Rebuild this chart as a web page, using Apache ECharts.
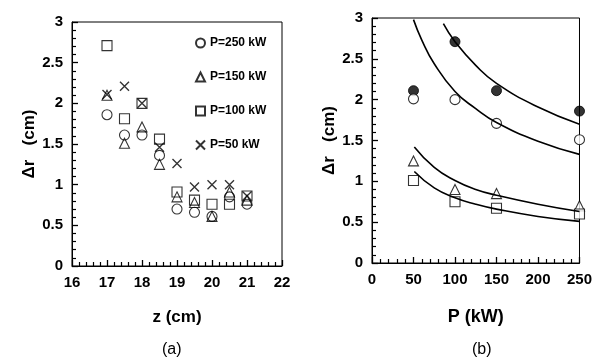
<!DOCTYPE html>
<html><head><meta charset="utf-8">
<script src="https://cdn.jsdelivr.net/npm/echarts@6/dist/echarts.min.js"></script>
<style>html,body{margin:0;padding:0;background:#fff}#c{width:595px;height:364px}</style>
</head><body><div id="c"></div>
<script>
// ---- Panel (a): Δr vs z ----
const zCm = [17, 17.5, 18, 18.5, 19, 19.5, 20, 20.5, 21];
const drP250 = [1.86, 1.61, 1.61, 1.36, 0.70, 0.66, 0.61, 0.85, 0.76];
const drP150 = [2.10, 1.51, 1.71, 1.25, 0.85, 0.78, 0.61, 0.91, 0.81];
const drP100 = [2.71, 1.81, 2.00, 1.56, 0.91, 0.81, 0.76, 0.76, 0.86];
const drP50  = [2.11, 2.21, 2.00, 1.46, 1.26, 0.97, 1.00, 1.00, 0.86];
const legendNames = ['P=250 kW', 'P=150 kW', 'P=100 kW', 'P=50 kW'];
const xTicksA = [16, 17, 18, 19, 20, 21, 22];
const yTicks = [0, 0.5, 1, 1.5, 2, 2.5, 3];

// ---- Panel (b): Δr vs P ----
const pKW = [50, 100, 150, 250];
const bFilled = [2.11, 2.71, 2.11, 1.86];
const bOpen   = [2.01, 2.00, 1.71, 1.51];
const bTri    = [1.25, 0.90, 0.85, 0.70];
const bSq     = [1.01, 0.75, 0.67, 0.60];
// fitted curves
const fit1P = [86, 100, 125, 150, 200, 250];
const fit1V = [2.93, 2.71, 2.42, 2.20, 1.91, 1.70];
const fit2P = [50, 60, 75, 100, 125, 150, 200, 250];
const fit2V = [2.98, 2.73, 2.44, 2.10, 1.89, 1.72, 1.49, 1.33];
const fit3P = [51, 75, 100, 125, 150, 200, 250];
const fit3V = [1.42, 1.17, 1.01, 0.90, 0.83, 0.72, 0.63];
const fit4P = [51, 75, 100, 125, 150, 200, 250];
const fit4V = [1.12, 0.92, 0.80, 0.72, 0.66, 0.57, 0.51];
const xTicksB = [0, 50, 100, 150, 200, 250];

const FONT = '"Liberation Sans", Arial, sans-serif';
const CROSS = 'path://M0,0L10,10M0,10L10,0';
const pair = (xs, ys) => xs.map((x, i) => [x, ys[i]]);

function makeAxis(extra) {
  const ax = {
    type: 'value',
    axisLine: { show: true, lineStyle: { color: '#000', width: 1 } },
    axisTick: { show: true, inside: true, length: 6, lineStyle: { color: '#000', width: 1.3 } },
    minorTick: { show: true, splitNumber: 5, length: 4, lineStyle: { color: '#000', width: 1.2 } },
    splitLine: { show: false },
    axisLabel: { color: '#000', fontFamily: FONT, fontWeight: 'bold', fontSize: 15, margin: 9 },
    nameLocation: 'middle',
    nameTextStyle: { color: '#000', fontFamily: FONT, fontWeight: 'bold', fontSize: 17 }
  };
  for (const k in extra) ax[k] = extra[k];
  return ax;
}

function openStyle() {
  return { color: 'rgba(0,0,0,0)', borderColor: '#000', borderWidth: 1.1 };
}

const chart = echarts.init(document.getElementById('c'));
const option = {
  animation: false,
  grid: [
    { left: 72, top: 22, width: 210, height: 244, show: true, borderColor: '#000', borderWidth: 1 },
    { left: 372, top: 18, width: 208, height: 245, show: true, borderColor: '#000', borderWidth: 1 }
  ],
  xAxis: [
    makeAxis({ gridIndex: 0, min: xTicksA[0], max: xTicksA[xTicksA.length - 1], interval: 1, name: 'z (cm)', nameGap: 43 }),
    makeAxis({ gridIndex: 1, min: xTicksB[0], max: xTicksB[xTicksB.length - 1], interval: 50, name: 'P (kW)', nameGap: 45,
      nameTextStyle: { color: '#000', fontFamily: FONT, fontWeight: 'bold', fontSize: 18 } })
  ],
  yAxis: [
    makeAxis({ gridIndex: 0, min: yTicks[0], max: yTicks[yTicks.length - 1], interval: 0.5, name: 'Δr   (cm)', nameGap: 33 }),
    makeAxis({ gridIndex: 1, min: yTicks[0], max: yTicks[yTicks.length - 1], interval: 0.5, name: 'Δr   (cm)', nameGap: 33 })
  ],
  legend: {
    orient: 'vertical', left: 190, top: 32, itemWidth: 9, itemHeight: 9, itemGap: 22,
    data: legendNames,
    textStyle: { color: '#000', fontFamily: FONT, fontWeight: 'bold', fontSize: 12 }
  },
  graphic: [
    { type: 'text', left: 162, top: 342, style: { text: '(a)', font: '16px ' + FONT, fill: '#000' } },
    { type: 'text', left: 472, top: 342, style: { text: '(b)', font: '16px ' + FONT, fill: '#000' } }
  ],
  series: [
    { name: legendNames[0], type: 'scatter', xAxisIndex: 0, yAxisIndex: 0, symbol: 'circle', symbolSize: 10, clip: false,
      itemStyle: openStyle(), data: pair(zCm, drP250) },
    { name: legendNames[1], type: 'scatter', xAxisIndex: 0, yAxisIndex: 0, symbol: 'triangle', symbolSize: 10, clip: false,
      itemStyle: openStyle(), data: pair(zCm, drP150) },
    { name: legendNames[2], type: 'scatter', xAxisIndex: 0, yAxisIndex: 0, symbol: 'rect', symbolSize: 10, clip: false,
      itemStyle: openStyle(), data: pair(zCm, drP100) },
    { name: legendNames[3], type: 'scatter', xAxisIndex: 0, yAxisIndex: 0, symbol: CROSS, symbolSize: 9, clip: false,
      itemStyle: { color: 'rgba(0,0,0,0)', borderColor: '#000', borderWidth: 1.4 }, data: pair(zCm, drP50) },

    // panel (b) curves
    { type: 'line', xAxisIndex: 1, yAxisIndex: 1, smooth: true, showSymbol: false,
      lineStyle: { color: '#000', width: 1.6 }, data: pair(fit1P, fit1V) },
    { type: 'line', xAxisIndex: 1, yAxisIndex: 1, smooth: true, showSymbol: false,
      lineStyle: { color: '#000', width: 1.6 }, data: pair(fit2P, fit2V) },
    { type: 'line', xAxisIndex: 1, yAxisIndex: 1, smooth: true, showSymbol: false,
      lineStyle: { color: '#000', width: 1.6 }, data: pair(fit3P, fit3V) },
    { type: 'line', xAxisIndex: 1, yAxisIndex: 1, smooth: true, showSymbol: false,
      lineStyle: { color: '#000', width: 1.6 }, data: pair(fit4P, fit4V) },
    // panel (b) points
    { type: 'scatter', xAxisIndex: 1, yAxisIndex: 1, symbol: 'circle', symbolSize: 10, clip: false,
      itemStyle: { color: '#000', borderColor: '#000', borderWidth: 1 }, data: pair(pKW, bFilled) },
    { type: 'scatter', xAxisIndex: 1, yAxisIndex: 1, symbol: 'circle', symbolSize: 10, clip: false,
      itemStyle: { color: '#fff', borderColor: '#000', borderWidth: 1.1 }, data: pair(pKW, bOpen) },
    { type: 'scatter', xAxisIndex: 1, yAxisIndex: 1, symbol: 'triangle', symbolSize: 10, clip: false,
      itemStyle: { color: '#fff', borderColor: '#000', borderWidth: 1.1 }, data: pair(pKW, bTri) },
    { type: 'scatter', xAxisIndex: 1, yAxisIndex: 1, symbol: 'rect', symbolSize: 10, clip: false,
      itemStyle: { color: '#fff', borderColor: '#000', borderWidth: 1.1 }, data: pair(pKW, bSq) }
  ]
};
chart.setOption(option);
</script>
</body></html>
